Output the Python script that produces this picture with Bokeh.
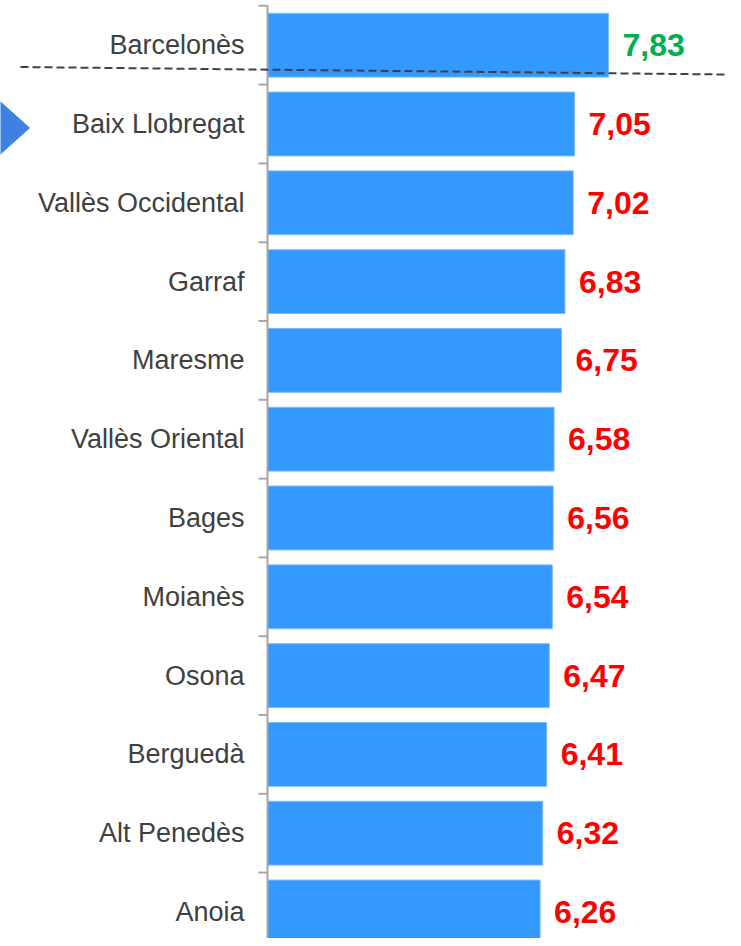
from bokeh.plotting import figure
from bokeh.models import Range1d, ColumnDataSource
from bokeh.core.properties import value
from bokeh.embed import file_html
from bokeh.resources import INLINE

# ---- data ----
comarques = ["Barcelonès", "Baix Llobregat", "Vallès Occidental", "Garraf", "Maresme",
             "Vallès Oriental", "Bages", "Moianès", "Osona", "Berguedà", "Alt Penedès", "Anoia"]
valors = [7.83, 7.05, 7.02, 6.83, 6.75, 6.58, 6.56, 6.54, 6.47, 6.41, 6.32, 6.26]
referencia = "Barcelonès"

# ---- layout constants (pixels) ----
W, H = 733, 938
PX_X = 43.55          # px per unit on x
AXIS_X = 267          # canvas x of value 0
ROW = 78.8            # px per category
FIRST = 44.7          # canvas y of first category centre

idx = list(range(len(comarques)))
labels_txt = [f"{v:.2f}".replace(".", ",") for v in valors]
colors = ["#00B050" if c == referencia else "#FF0000" for c in comarques]

src = ColumnDataSource(dict(cat=comarques, val=valors, y=idx, lab=labels_txt, col=colors))

p = figure(width=W, height=H, output_backend="svg", toolbar_location=None,
           x_range=Range1d(-AXIS_X / PX_X, (W - AXIS_X) / PX_X),
           y_range=Range1d((H - FIRST) / ROW, -FIRST / ROW),
           min_border=0, outline_line_color=None)
p.axis.visible = False
p.grid.visible = False
p.background_fill_color = "white"
p.border_fill_color = "white"

# bars
p.hbar(y="y", left=0, right="val", height=0.81, source=src,
       fill_color="#3399FF", line_color="#7DBBF7", line_width=1)

# vertical axis line and ticks between categories
n = len(comarques)
p.segment(x0=[0], y0=[-0.5], x1=[0], y1=[n + 1], line_color="#A6A6A6", line_width=2)
bounds = [i - 0.5 for i in range(n + 1)]
p.segment(x0=[-9 / PX_X] * len(bounds), y0=bounds, x1=[0] * len(bounds), y1=bounds,
          line_color="#A6A6A6", line_width=2)

# category labels
p.text(x=0, y="y", text="cat", source=src, x_offset=-23, text_align="right",
       text_baseline="middle", text_font=value("Liberation Sans"), text_font_size="27px",
       text_color="#404040")

# value labels
p.text(x="val", y="y", text="lab", source=src, x_offset=14, text_align="left",
       text_baseline="middle", text_font=value("Liberation Sans"), text_font_size="32px",
       text_font_style="bold", text_color="col")

# dashed reference line under Barcelonès
p.line(x=[(20 - AXIS_X) / PX_X, (725 - AXIS_X) / PX_X],
       y=[(66.5 - FIRST) / ROW, (74 - FIRST) / ROW],
       line_color="#404040", line_width=2, line_dash="8 4")

# arrow marker pointing at Baix Llobregat
tip_y = 1.05
p.patch(x=[-6.8, (29 - AXIS_X) / PX_X, -6.8],
        y=[tip_y - 0.66, tip_y, tip_y + 0.66],
        fill_color="#4080E0", line_color="#4080E0")

open("out.html", "w").write(file_html(p, INLINE))
